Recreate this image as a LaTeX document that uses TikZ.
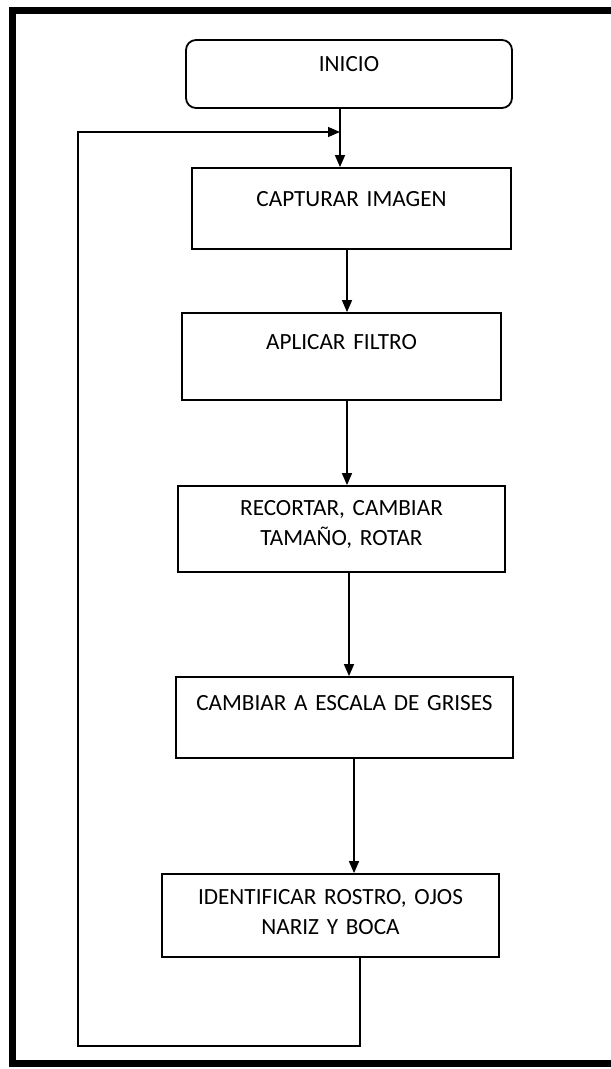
\documentclass[tikz,border=0pt]{standalone}
\usepackage{fontspec}
\setmainfont{Carlito}
\usetikzlibrary{arrows.meta}

\begin{document}
\begin{tikzpicture}[x=0.5pt,y=-0.5pt,>={Triangle[length=6pt,width=5pt]},semithick]
  \tikzstyle{caja}=[draw=black,rectangle,line width=0.9pt,inner sep=0pt,align=center,anchor=base,font=\fontsize{11.6}{15}\selectfont]
  \tikzstyle{flecha}=[->,line width=0.75pt]

  \useasboundingbox (0,0) rectangle (610,1069);
  \draw[line width=3.5pt] (12.5,10.5) rectangle (650,1063.5);

  \node[caja,rounded corners=5pt,text width=163pt,text height=16pt,text depth=18pt] (inicio)  at (349,72)    {INICIO};
  \node[caja,text width=159.5pt,text height=19.5pt,text depth=21pt]                 (captura) at (351.5,207) {CAPTURAR IMAGEN};
  \node[caja,text width=159.5pt,text height=18.5pt,text depth=25pt]                 (filtro)  at (341.5,350) {APLICAR FILTRO};
  \node[caja,text width=163.5pt,text height=14.5pt,text depth=28.5pt]               (recorte) at (341.5,515) {RECORTAR, CAMBIAR\\TAMAÑO, ROTAR};
  \node[caja,text width=168.5pt,text height=16.5pt,text depth=24pt]                 (grises)  at (344.5,710) {CAMBIAR A ESCALA DE GRISES};
  \node[caja,text width=168.5pt,text height=15pt,text depth=26.5pt]                 (rostro)  at (330.5,904) {IDENTIFICAR ROSTRO, OJOS\\NARIZ Y BOCA};

  \coordinate (union)   at (340,132);
  \coordinate (retorno) at (78,1046);

  \draw[flecha] (inicio.south -| union) -- (captura.north -| union);
  \draw[flecha] (captura.south -| 347,0) -- (filtro.north -| 347,0);
  \draw[flecha] (filtro.south -| 347,0) -- (recorte.north -| 347,0);
  \draw[flecha] (recorte.south -| 349,0) -- (grises.north -| 349,0);
  \draw[flecha] (grises.south -| 354,0) -- (rostro.north -| 354,0);
  % vuelta al inicio del ciclo
  \draw[flecha,line width=0.6pt] (rostro.south -| 360,0) |- (retorno) |- (union);
\end{tikzpicture}
\end{document}
